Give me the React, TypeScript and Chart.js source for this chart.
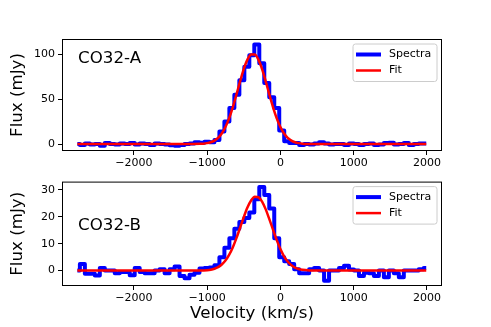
import React, { useEffect, useRef } from 'react';
import { Chart, registerables } from 'chart.js';

Chart.register(...registerables);

// ---- data ----
const velocity = [
  -2770, -2702, -2634, -2566, -2498, -2430, -2362, -2294, -2226, -2158,
  -2090, -2022, -1954, -1886, -1818, -1750, -1682, -1614, -1546, -1478,
  -1410, -1342, -1274, -1206, -1138, -1070, -1002, -934, -866, -798,
  -730, -662, -594, -526, -458, -390, -322, -254, -186, -118,
  -50, 18, 86, 154, 222, 290, 358, 426, 494, 562,
  630, 698, 766, 834, 902, 970, 1038, 1106, 1174, 1242,
  1310, 1378, 1446, 1514, 1582, 1650, 1718, 1786, 1854, 1922,
  1990,
];

const spectraA = [
  0, -1, 0.5, -0.5, 0, -2, 1, 0, -0.5, 0.5,
  0, 1, -0.5, 0.5, 0, -1, 0.5, 0, -0.5, -1.5,
  -2, -1, 0, 0.5, 2, 1.5, 2.5, 2, 4.5, 14,
  25, 40, 55, 71, 86, 99, 111, 90, 68, 52,
  40, 15, 3, 1, 1, -1, 0, -0.5, 0.5, 2,
  0.5, -0.5, 0, 0, -1, 0.5, 0, -1, 0, 0.5,
  -1, -0.5, 1, 1.5, -0.5, 0, 1, -1, 0, 0.5,
  0.5,
];

const spectraB = [
  0, 2.5, -1.2, -1.2, -1.8, 1, 0, 0, -1, -0.5,
  -0.5, -1.7, 1, -0.5, -1, -1, 0, 0.5, -1, 0.5,
  1.5, -2, -2.8, -1.5, -0.8, 0.8, 1, 1.2, 2, 5,
  8.5, 12, 15.5, 18, 19.5, 21.5, 26.5, 31, 28, 23,
  12, 5, 3.5, 2.5, 0.5, -1, -1, 0.5, 1, 0,
  -3.8, 0, 0, 1, 1.8, 0.4, 0, -2, -0.8, -1,
  -2, 0, -2.5, 0, -1, -2.5, 0, 0, 0, 0.5,
  1,
];

const fitVelocity = [
  -2770, -2000, -1500, -1200, -1100, -1050, -1000, -950, -900, -850,
  -800, -750, -700, -650, -600, -550, -500, -450, -400, -350,
  -300, -250, -200, -150, -100, -50, 0, 50, 100, 150,
  200, 250, 300, 400, 500, 700, 1000, 1500, 1990,
];

const fitA = [
  0, 0, 0, 0.03, 0.2, 0.4, 1.0, 2.0, 3.8, 6.9,
  11.7, 18.9, 28.6, 40.9, 55.0, 69.8, 83.5, 94.0, 99.8, 99.8,
  94.0, 83.5, 69.8, 55.0, 40.9, 28.6, 18.9, 11.7, 6.9, 3.8,
  2.0, 1.0, 0.4, 0.1, 0, 0, 0, 0, 0,
];

const fitB = [
  0, 0, 0, 0.01, 0.03, 0.08, 0.17, 0.35, 0.69, 1.28,
  2.25, 3.72, 5.82, 8.61, 12.03, 15.9, 19.8, 23.4, 26.0, 27.4,
  27.2, 25.6, 22.7, 19.0, 15.1, 11.3, 8.0, 5.3, 3.39, 2.02,
  1.13, 0.61, 0.31, 0.07, 0.01, 0, 0, 0, 0,
];

const xTicks = [-2000, -1000, 0, 1000, 2000];
const yTicksA = [0, 50, 100];
const yTicksB = [0, 10, 20, 30];
const seriesNames = ['Spectra', 'Fit'];
const panelLabels = ['CO32-A', 'CO32-B'];
const xTitle = 'Velocity (km/s)';
const yTitle = 'Flux (mJy)';

const FONT = 'DejaVu Sans';
const BLUE = '#0000ff';
const RED = '#ff0000';

const fmt = (v: number) => String(v).replace('-', '\u2212');

function decorPlugin(label: string, lx: number, ly: number) {
  return {
    id: 'decor',
    afterDraw(chart: any) {
      const { ctx, chartArea: a, scales } = chart;
      ctx.save();
      // frame (all four spines)
      ctx.strokeStyle = '#000';
      ctx.lineWidth = 1;
      ctx.strokeRect(a.left + 0.5, a.top + 0.5, a.right - a.left - 1, a.bottom - a.top - 1);
      // panel label
      ctx.fillStyle = '#000';
      ctx.font = `16.67px "${FONT}"`;
      ctx.textAlign = 'left';
      ctx.textBaseline = 'middle';
      ctx.fillText(label, scales.x.getPixelForValue(lx), scales.y.getPixelForValue(ly));
      // legend
      const w = 84;
      const h = 37.5;
      const x0 = a.right - 5 - w;
      const y0 = a.top + 5;
      const r = 2.5;
      ctx.beginPath();
      ctx.moveTo(x0 + r, y0);
      ctx.lineTo(x0 + w - r, y0);
      ctx.arcTo(x0 + w, y0, x0 + w, y0 + r, r);
      ctx.lineTo(x0 + w, y0 + h - r);
      ctx.arcTo(x0 + w, y0 + h, x0 + w - r, y0 + h, r);
      ctx.lineTo(x0 + r, y0 + h);
      ctx.arcTo(x0, y0 + h, x0, y0 + h - r, r);
      ctx.lineTo(x0, y0 + r);
      ctx.arcTo(x0, y0, x0 + r, y0, r);
      ctx.closePath();
      ctx.fillStyle = 'rgba(255,255,255,0.8)';
      ctx.fill();
      ctx.strokeStyle = '#cccccc';
      ctx.lineWidth = 1;
      ctx.stroke();
      const rows = [
        { y: y0 + 10.5, color: BLUE, width: 4, name: seriesNames[0] },
        { y: y0 + 26.5, color: RED, width: 2.5, name: seriesNames[1] },
      ];
      ctx.font = `11px "${FONT}"`;
      ctx.textBaseline = 'middle';
      ctx.textAlign = 'left';
      for (const row of rows) {
        ctx.beginPath();
        ctx.strokeStyle = row.color;
        ctx.lineWidth = row.width;
        ctx.lineCap = 'butt';
        ctx.moveTo(x0 + 3, row.y);
        ctx.lineTo(x0 + 28, row.y);
        ctx.stroke();
        ctx.fillStyle = '#000';
        ctx.fillText(row.name, x0 + 36, row.y);
      }
      ctx.restore();
    },
  };
}

function makeConfig(opts: {
  spectra: number[];
  fit: number[];
  yMin: number;
  yMax: number;
  yTicks: number[];
  label: string;
  labelY: number;
  padTop: number;
  xHeight: number;
  showXTitle: boolean;
}): any {
  return {
    type: 'line',
    data: {
      datasets: [
        {
          label: seriesNames[0],
          data: velocity.map((v, i) => ({ x: v, y: opts.spectra[i] })),
          borderColor: BLUE,
          backgroundColor: BLUE,
          borderWidth: 4,
          stepped: 'middle',
          pointRadius: 0,
          fill: false,
          borderJoinStyle: 'round',
          order: 2,
        },
        {
          label: seriesNames[1],
          data: fitVelocity.map((v, i) => ({ x: v, y: opts.fit[i] })),
          borderColor: RED,
          backgroundColor: RED,
          borderWidth: 2.5,
          cubicInterpolationMode: 'monotone',
          pointRadius: 0,
          fill: false,
          order: 1,
        },
      ],
    },
    options: {
      animation: false,
      responsive: false,
      maintainAspectRatio: false,
      devicePixelRatio: 1,
      layout: { padding: { top: opts.padTop, right: 49, bottom: 0, left: 0 } },
      plugins: { legend: { display: false }, tooltip: { enabled: false } },
      scales: {
        x: {
          type: 'linear',
          min: -2980,
          max: 2205,
          afterBuildTicks: (s: any) => {
            s.ticks = xTicks.map((v) => ({ value: v }));
          },
          afterFit: (s: any) => {
            s.height = opts.xHeight;
          },
          grid: { drawOnChartArea: false, drawTicks: true, tickLength: 4, tickColor: '#000', lineWidth: 1 },
          border: { display: false },
          ticks: {
            font: { family: FONT, size: 11 },
            color: '#000',
            padding: 2,
            maxRotation: 0,
            autoSkip: false,
            callback: (v: any) => fmt(v),
          },
          title: {
            display: opts.showXTitle,
            text: xTitle,
            color: '#000',
            font: { family: FONT, size: 16.67 },
            padding: { top: 0, bottom: 3 },
          },
        },
        y: {
          type: 'linear',
          min: opts.yMin,
          max: opts.yMax,
          afterBuildTicks: (s: any) => {
            s.ticks = opts.yTicks.map((v) => ({ value: v }));
          },
          afterFit: (s: any) => {
            s.width = 62;
          },
          grid: { drawOnChartArea: false, drawTicks: true, tickLength: 4, tickColor: '#000', lineWidth: 1 },
          border: { display: false },
          ticks: {
            font: { family: FONT, size: 11 },
            color: '#000',
            padding: 3,
            autoSkip: false,
            callback: (v: any) => fmt(v),
          },
          title: {
            display: true,
            text: yTitle,
            color: '#000',
            font: { family: FONT, size: 16.67 },
            padding: { top: 7.5, bottom: 0 },
          },
        },
      },
    },
    plugins: [decorPlugin(opts.label, -2760, opts.labelY)],
  };
}

export default function App() {
  const topRef = useRef<HTMLCanvasElement | null>(null);
  const botRef = useRef<HTMLCanvasElement | null>(null);

  useEffect(() => {
    document.body.style.margin = '0';
    const c1 = new Chart(
      topRef.current as HTMLCanvasElement,
      makeConfig({
        spectra: spectraA,
        fit: fitA,
        yMin: -7.8,
        yMax: 117.06,
        yTicks: yTicksA,
        label: panelLabels[0],
        labelY: 95.5,
        padTop: 39,
        xHeight: 21,
        showXTitle: false,
      })
    );
    const c2 = new Chart(
      botRef.current as HTMLCanvasElement,
      makeConfig({
        spectra: spectraB,
        fit: fitB,
        yMin: -5.7,
        yMax: 33.0,
        yTicks: yTicksB,
        label: panelLabels[1],
        labelY: 16.7,
        padTop: 1,
        xHeight: 41,
        showXTitle: true,
      })
    );
    return () => {
      c1.destroy();
      c2.destroy();
    };
  }, []);

  return (
    <div style={{ position: 'fixed', left: 0, top: 0, width: 491, height: 327, background: '#fff' }}>
      <canvas
        ref={topRef}
        width={491}
        height={172}
        style={{ position: 'absolute', left: 0, top: 0, width: 491, height: 172 }}
      />
      <canvas
        ref={botRef}
        width={491}
        height={155}
        style={{ position: 'absolute', left: 0, top: 172, width: 491, height: 155 }}
      />
    </div>
  );
}
